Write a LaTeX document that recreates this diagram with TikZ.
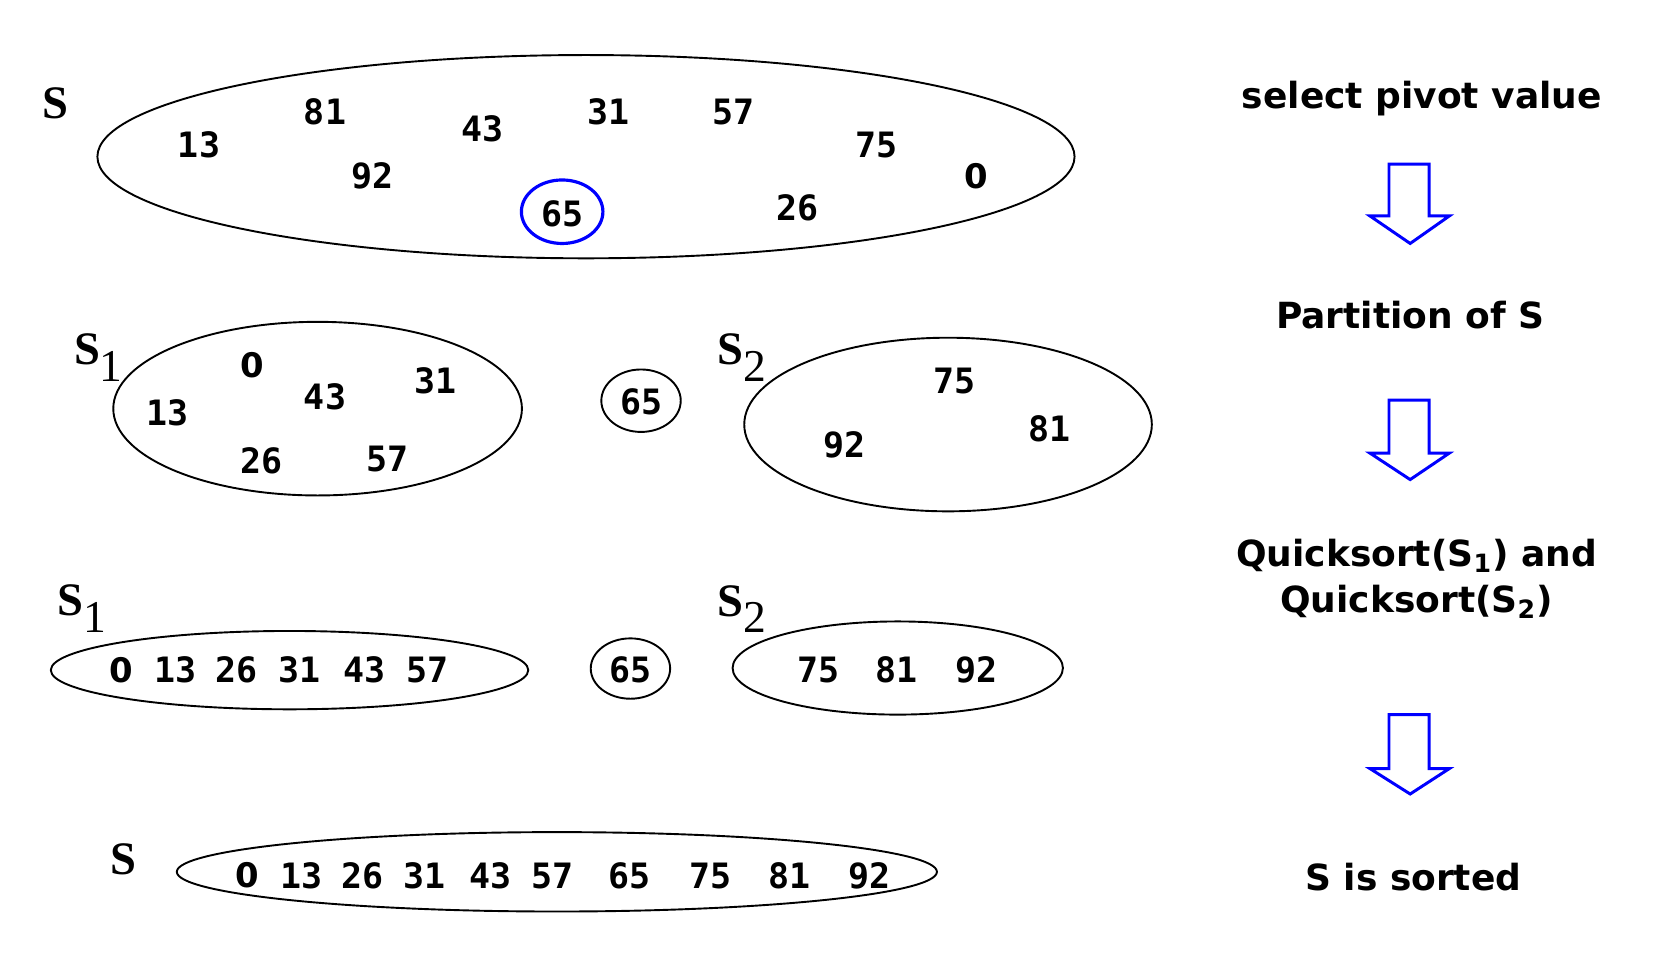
\documentclass[tikz,border=0pt]{standalone}
\usepackage{fontspec}
\setmainfont{Liberation Serif}
\newfontfamily\numfont{DejaVu Sans Mono}
\newfontfamily\labfont{DejaVu Sans}
\usetikzlibrary{shapes.geometric}
\begin{document}
\begin{tikzpicture}[x=0.5pt,y=-0.5pt,
  ell/.style={draw, ellipse, line width=0.9pt, inner sep=0pt},
  num/.style={inner sep=0pt, font=\fontsize{16.5}{18}\numfont\bfseries},
  zeronum/.style={inner sep=0pt, font=\fontsize{16}{18}\labfont\bfseries},
  setlab/.style={inner sep=0pt, font=\fontsize{22}{24}\selectfont\bfseries},
  sublab/.style={inner sep=0pt, font=\fontsize{21.5}{24}\selectfont},
  steptext/.style={inner sep=0pt, font=\fontsize{17}{21.5}\labfont\bfseries, align=center},
  bigarrow/.style={draw=blue, line width=1.4pt, line join=miter}]
\useasboundingbox (0,0) rectangle (1568,913.5);
\fill[white] (0,0) rectangle (1568,913.5);

% ---- Row 1 ----
\node[ell, minimum width=461.5pt, minimum height=96pt] (E1) at (553.5,148) {};
\node[setlab] (L1) at (52,98) {S};
\node[num] (a13) at (188,137) {13};
\node[num] (a81) at (307,106) {81};
\node[num] (a43) at (456,122) {43};
\node[num] (a31) at (575,106) {31};
\node[num] (a57) at (693,106) {57};
\node[num] (a75) at (828,137) {75};
\node[zeronum] (a0) at (922,166) {0};
\node[num] (a92) at (352,166) {92};
\node[num] (a26) at (753,196) {26};
\node[ell, draw=blue, line width=1.5pt, minimum width=38.5pt, minimum height=30pt] (P1) at (531,200) {};
\node[num] (a65) at (531,202) {65};

% ---- Row 2 ----
\node[ell, minimum width=193pt, minimum height=82pt] (E2a) at (300,386) {};
\node[setlab] (L2a) at (83,330) {S};
\node[sublab] (L2as) at (105,346) {1};
\node[zeronum] (b0) at (238,345) {0};
\node[num] (b43) at (307,375) {43};
\node[num] (b31) at (411,360) {31};
\node[num] (b13) at (158,390) {13};
\node[num] (b26) at (247,435) {26};
\node[num] (b57) at (366,434) {57};
\node[ell, minimum width=37.5pt, minimum height=29.5pt] (P2) at (605.5,378.5) {};
\node[num] (b65) at (606,380) {65};
\node[ell, minimum width=192.5pt, minimum height=82pt] (E2b) at (895.5,401) {};
\node[setlab] (L2b) at (690,330) {S};
\node[sublab] (L2bs) at (713,346) {2};
\node[num] (b75) at (902,360) {75};
\node[num] (b92) at (798,420) {92};
\node[num] (b81) at (991,405) {81};

% ---- Row 3 ----
\node[ell, minimum width=225.5pt, minimum height=37pt] (E3a) at (273.5,633) {};
\node[setlab] (L3a) at (66.5,567.5) {S};
\node[sublab] (L3as) at (89.5,583) {1};
\node[zeronum] (c0) at (115,633) {0};
\node[num] (c13) at (166,633) {13};
\node[num] (c26) at (223,633) {26};
\node[num] (c31) at (283,633) {31};
\node[num] (c43) at (344,633) {43};
\node[num] (c57) at (404,633) {57};
\node[ell, minimum width=37.5pt, minimum height=28.5pt] (P3) at (595.5,631.5) {};
\node[num] (c65) at (596,633) {65};
\node[ell, minimum width=156pt, minimum height=44pt] (E3b) at (848,631) {};
\node[setlab] (L3b) at (690,568) {S};
\node[sublab] (L3bs) at (713,583) {2};
\node[num] (c75) at (773,633) {75};
\node[num] (c81) at (847,633) {81};
\node[num] (c92) at (922,633) {92};

% ---- Row 4 ----
\node[ell, minimum width=359pt, minimum height=37.5pt] (E4) at (526,823.5) {};
\node[setlab] (L4) at (117,812) {S};
\node[zeronum] (d0) at (234,827) {0};
\node[num] (d13) at (285,827) {13};
\node[num] (d26) at (342,827) {26};
\node[num] (d31) at (401,827) {31};
\node[num] (d43) at (463,827) {43};
\node[num] (d57) at (522,827) {57};
\node[num] (d65) at (595,827) {65};
\node[num] (d75) at (671,827) {75};
\node[num] (d81) at (746,827) {81};
\node[num] (d92) at (821,827) {92};

% ---- Right column ----
\node[steptext] (T1) at (1343,93) {select pivot value};
\node[steptext] (T2) at (1332,298) {Partition of S};
\node[steptext] (T3) at (1338,547) {Quicksort(S\textsubscript{1}) and\\Quicksort(S\textsubscript{2})};
\node[steptext] (T4) at (1335,828) {S is sorted};

\draw[bigarrow] (1312,155) -- (1350,155) -- (1350,204) -- (1369,204) -- (1332,230) -- (1294,204) -- (1312,204) -- cycle;
\draw[bigarrow] (1312,378) -- (1350,378) -- (1350,428) -- (1369,428) -- (1332,453) -- (1294,428) -- (1312,428) -- cycle;
\draw[bigarrow] (1312,675) -- (1350,675) -- (1350,726) -- (1369,726) -- (1332,750) -- (1294,726) -- (1312,726) -- cycle;
\end{tikzpicture}
\end{document}
